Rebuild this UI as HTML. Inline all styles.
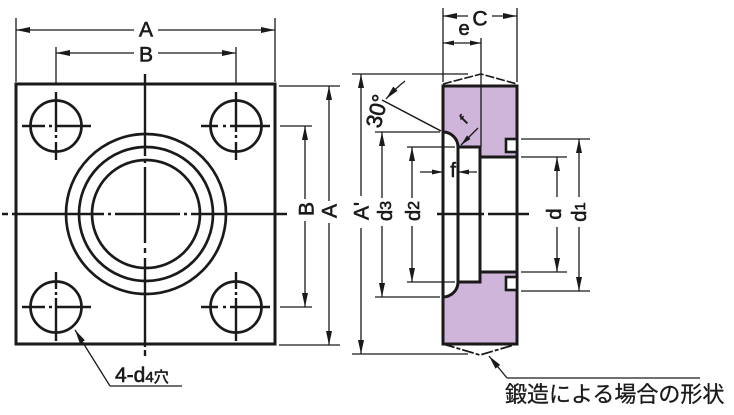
<!DOCTYPE html>
<html><head><meta charset="utf-8"><style>
html,body{margin:0;padding:0;background:#fff;}
svg{display:block;}
text{font-family:"Liberation Sans","Noto Sans CJK JP",sans-serif;fill:#1a1a1a;}
.t text{stroke:#1a1a1a;stroke-width:0.6;}
</style></head><body>
<svg width="734" height="415" viewBox="0 0 734 415" xmlns="http://www.w3.org/2000/svg">
<defs>
<marker id="a" viewBox="0 0 14 6" refX="14" refY="3" markerWidth="14" markerHeight="6" orient="auto-start-reverse" markerUnits="userSpaceOnUse"><path d="M0,0L14,3L0,6z" fill="#1a1a1a"/></marker>
<marker id="s" viewBox="0 0 11 5" refX="11" refY="2.5" markerWidth="11" markerHeight="5" orient="auto-start-reverse" markerUnits="userSpaceOnUse"><path d="M0,0L11,2.5L0,5z" fill="#1a1a1a"/></marker>
</defs>
<g stroke="#1a1a1a" fill="none" stroke-linecap="butt">
<!-- LEFT VIEW -->
<rect x="16" y="84" width="259" height="260" stroke-width="3"/>
<circle cx="146" cy="214" r="80" stroke-width="2.7"/>
<circle cx="146" cy="214" r="67" stroke-width="2.7"/>
<circle cx="146" cy="214" r="54" stroke-width="2.7"/>
<circle cx="56" cy="126" r="25.5" stroke-width="2.7"/>
<circle cx="236" cy="126" r="25.5" stroke-width="2.7"/>
<circle cx="56" cy="307" r="25.5" stroke-width="2.7"/>
<circle cx="236" cy="307" r="25.5" stroke-width="2.7"/>
<g stroke-width="2.4">
<path d="M22,126H45M49,126H52M55,126H91 M56,92V132M56,135V138M56,142V160"/>
<path d="M201,126H218M223,126H226M230,126H270 M236,92V132M236,135V138M236,142V160"/>
<path d="M22,307H45M49,307H52M55,307H91 M56,272V289M56,292V295M56,298V341"/>
<path d="M201,307H218M223,307H226M230,307H270 M236,272V289M236,292V295M236,298V341"/>
<path d="M2,214H8M12,214H104M108,214H111M115,214H180M184,214H187M191,214H287"/>
<path d="M145,74V156M145,160V163M145,167V243M145,248V253M145,258V347M145,350V356"/>
<path d="M437,214H484M488,214H529"/>
</g>
<g stroke-width="1.3">
<path d="M16,18V82M275,18V82M56,47V83M236,47V83"/>
<line x1="134" y1="30" x2="16" y2="30" marker-end="url(#a)"/>
<line x1="158" y1="30" x2="275" y2="30" marker-end="url(#a)"/>
<line x1="134" y1="53" x2="56" y2="53" marker-end="url(#a)"/>
<line x1="158" y1="53" x2="236" y2="53" marker-end="url(#a)"/>
<path d="M279,86H340M280,126H312M280,307H312M279,345H340"/>
<line x1="305" y1="199" x2="305" y2="126" marker-end="url(#a)"/>
<line x1="305" y1="221" x2="305" y2="307" marker-end="url(#a)"/>
<line x1="329" y1="201" x2="329" y2="86" marker-end="url(#a)"/>
<line x1="329" y1="223" x2="329" y2="345" marker-end="url(#a)"/>
<path d="M110,386H182"/>
<line x1="110" y1="386" x2="75" y2="330" marker-end="url(#a)"/>
</g>
<!-- RIGHT VIEW body -->
<path d="M443,86H517V157H480V147H458A15 15 0 0 0 443 132Z M443,297A15 15 0 0 0 458 282H480V272H517V344H443Z" fill="#cfb5da" stroke="none"/>
<g stroke-width="3">
<path d="M443,86H517V344H443Z"/>
<path d="M458,147V282 M458,147H480V282H458 M480,157H517 M480,272H517"/>
<path d="M443,132A15 15 0 0 1 458 147 M458,282A15 15 0 0 1 443 297"/>
<rect x="506" y="139" width="11" height="13" fill="#fff" stroke-width="2.6"/>
<rect x="506" y="277" width="11" height="13" fill="#fff" stroke-width="2.6"/>
</g>
<path d="M443,84L481,74L517,84" stroke-width="1.6" stroke-dasharray="9 2"/>
<path d="M443,344L480,355L517,344" stroke-width="1.8" stroke-dasharray="12 2 4 2"/>
<g stroke-width="1.3">
<path d="M443,8V82M517,8V82M481,38V147"/>
<line x1="468" y1="16" x2="443" y2="16" marker-end="url(#a)"/>
<line x1="492" y1="16" x2="517" y2="16" marker-end="url(#a)"/>
<line x1="462" y1="43" x2="443" y2="43" marker-end="url(#s)"/>
<line x1="462" y1="43" x2="481" y2="43" marker-end="url(#s)"/>
<path d="M352,74H468M352,354H468"/>
<line x1="361" y1="196" x2="361" y2="74" marker-end="url(#a)"/>
<line x1="361" y1="228" x2="361" y2="354" marker-end="url(#a)"/>
<path d="M382,100L441,131" stroke-width="1.5"/>
<path d="M405,81Q396,88 386,99" marker-end="url(#a)"/>
<path d="M375,132H440M375,297H440"/>
<line x1="382" y1="198" x2="382" y2="132" marker-end="url(#a)"/>
<line x1="382" y1="226" x2="382" y2="297" marker-end="url(#a)"/>
<path d="M407,147H455M407,282H455"/>
<line x1="412" y1="198" x2="412" y2="147" marker-end="url(#a)"/>
<line x1="412" y1="226" x2="412" y2="282" marker-end="url(#a)"/>
<line x1="420" y1="172" x2="443" y2="172" marker-end="url(#s)"/>
<line x1="477" y1="172" x2="458" y2="172" marker-end="url(#s)"/>
<line x1="478" y1="128" x2="461" y2="145" marker-end="url(#s)"/>
<path d="M521,157H567M521,272H567"/>
<line x1="557" y1="197" x2="557" y2="157" marker-end="url(#a)"/>
<line x1="557" y1="227" x2="557" y2="272" marker-end="url(#a)"/>
<path d="M521,139H590M521,291H590"/>
<line x1="579" y1="197" x2="579" y2="139" marker-end="url(#a)"/>
<line x1="579" y1="227" x2="579" y2="291" marker-end="url(#a)"/>
<path d="M507,378H700"/>
<line x1="507" y1="378" x2="489" y2="356" marker-end="url(#a)"/>
</g>
</g>
<!-- TEXT -->
<g class="t" font-size="21" text-anchor="middle" dominant-baseline="central">
<text x="146" y="30">A</text>
<text x="146" y="55">B</text>
<text transform="translate(307,209) rotate(-90)">B</text>
<text transform="translate(330,211) rotate(-90)">A</text>
<text transform="translate(362,211) rotate(-90)">A'</text>
<text x="480" y="19">C</text>
<text x="464" y="29" font-size="20">e</text>
<text transform="translate(386,211) rotate(-90)" font-size="20">d<tspan font-size="16">3</tspan></text>
<text transform="translate(414,211) rotate(-90)" font-size="20">d<tspan font-size="16">2</tspan></text>
<text transform="translate(555,214) rotate(-90)" font-size="20">d</text>
<text transform="translate(580,212) rotate(-90)" font-size="20">d<tspan font-size="15">1</tspan></text>
<text x="453" y="171" font-size="20">f</text>
<text transform="translate(464,120) rotate(-45)" font-size="15">f</text>
<text transform="translate(377,111) rotate(-76)" font-size="22">30°</text>
</g>
<g class="t">
<text x="115" y="382" font-size="21">4-d<tspan font-size="15">4穴</tspan></text>
<text x="505" y="402" font-size="22" style="stroke-width:0.3">鍛造による場合の形状</text>
</g>
</svg>
</body></html>
